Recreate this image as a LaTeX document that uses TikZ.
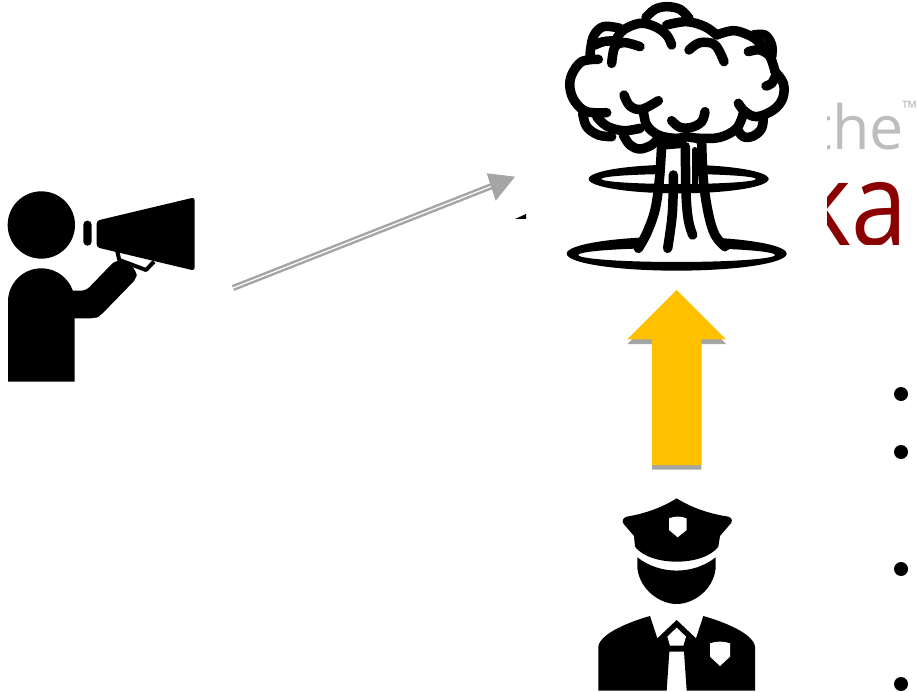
\documentclass[tikz,border=0pt]{standalone}
\usepackage{fontspec}
\setmainfont{Open Sans}
\definecolor{arrowgray}{HTML}{A5A5A5}
\definecolor{gold}{HTML}{FFC000}
\definecolor{logogray}{HTML}{BDBDBD}
\definecolor{logored}{HTML}{8B0000}
\tikzset{
  ink/.style={line width=9.5pt,line cap=round,line join=round,draw=black},
  zoomA/.style={x=0.33333pt,y=-0.33333pt,shift={(540pt,0pt)}},
  zoomB/.style={x=0.33333pt,y=-0.33333pt,shift={(0pt,-170pt)}},
  zoomC/.style={x=0.33333pt,y=-0.33333pt,shift={(580pt,-480pt)}},
  logotext/.style={inner sep=0pt,outer sep=0pt,anchor=base east},
}
\newcommand{\stroke}[1]{\draw[ink] plot[smooth,tension=0.6] coordinates {#1};}
\begin{document}
\begin{tikzpicture}[x=1pt,y=-1pt]
\useasboundingbox (0,0) rectangle (917,692);
% --- clipped logo text
\begin{scope}
\clip (827,0) rectangle (917,245);
\node[logotext,text=logogray,font=\fontsize{61}{70}\selectfont] (the) at (904,150) {the};
\node[logotext,text=logogray,font=\fontsize{20}{24}\selectfont,anchor=base west] (tm) at (902,116) {™};
\node[logotext,text=logored,font=\fontsize{116}{120}\selectfont] (ka) at (908,246) {\scalebox{0.87}[1]{ka}};
\end{scope}
% --- sliver
\fill (515,219) -- (526,214) -- (526,219) -- cycle;
% --- person with megaphone
\begin{scope}[zoomB]
\fill (124,165) circle[x radius=101,y radius=101];
\fill (24,635) -- (24,395) arc[start angle=180,end angle=360,x radius=100,y radius=100] -- (224,635) -- cycle;
\fill[rounded corners=5pt] (150,362) -- (258,362) -- (345,272) -- (380,272) -- (410,305) -- (410,325) -- (300,438) -- (285,445) -- (150,445) -- cycle;
\fill[rounded corners=3pt] (290,152) -- (584,82) -- (584,302) -- (290,232) -- cycle;
\fill[rounded corners=4pt] (250,152) rectangle (275,227);
\draw[line width=4pt,line join=round] (352,245) -- (358,270) -- (438,300) -- (462,275);
\end{scope}
% --- explosion
\begin{scope}[zoomA]
\fill[even odd rule] (416,537) ellipse[x radius=270,y radius=43] (416,537) ellipse[x radius=232,y radius=15];
\fill[even odd rule] (410,761) ellipse[x radius=330,y radius=51] (410,765) ellipse[x radius=295,y radius=21];
\fill[white] (372,480) rectangle (478,551);
\fill[white] (305,700) rectangle (545,746);
% stem
\stroke{(365,435) (358,540) (345,630) (320,700) (295,745)}
\stroke{(485,425) (490,540) (505,640) (525,705) (555,740)}
\stroke{(400,525) (397,640) (383,745)}
\stroke{(436,440) (438,580) (445,660) (458,705)}
\draw[ink,line width=6pt] (464,450) -- (464,552);
\draw[ink] (365,435) -- (425,430);
% cloud
\stroke{(318,52) (345,28) (380,20) (420,28) (447,55)}
\stroke{(228,120) (250,90) (300,70) (345,80) (380,105) (395,135)}
\stroke{(380,75) (440,65) (495,80) (530,105)}
\stroke{(530,105) (580,92) (625,105) (655,125) (690,170) (705,215)}
\stroke{(215,190) (225,140) (255,128) (300,140)}
\stroke{(447,150) (480,128) (525,135) (552,185)}
\stroke{(150,165) (160,110) (190,80) (240,85)}
\stroke{(165,135) (190,125) (225,122)}
\stroke{(640,105) (675,105) (695,135) (695,170)}
\stroke{(625,155) (660,150) (695,170)}
\stroke{(705,215) (730,250) (728,295) (700,330) (650,350) (615,335) (595,310)}
\stroke{(708,225) (695,250) (678,258)}
\stroke{(175,178) (125,185) (95,225) (90,265) (105,305) (140,335) (200,338)}
\stroke{(128,340) (140,380) (175,405) (215,410)}
\stroke{(170,350) (200,378) (250,392) (300,385)}
\stroke{(252,285) (270,318) (305,328) (355,302)}
\stroke{(310,330) (320,375) (355,405) (405,415) (440,410)}
\stroke{(395,362) (420,382) (455,382) (485,365) (495,335)}
\stroke{(440,410) (480,415) (540,412) (590,385) (610,340)}
\stroke{(250,405) (270,435) (300,447) (335,435) (350,420)}
\stroke{(590,385) (610,410) (640,408) (665,385) (670,350)}
\draw[ink,line width=6pt] (440,405) -- (420,430);
\draw[ink,line width=6pt] (440,405) -- (480,425);
\end{scope}
% --- megaphone arrow
\coordinate (from) at (233,288);
\coordinate (to) at (497,184);
\draw[arrowgray,line width=2.5pt,double=white,double distance=1.2pt] (from) -- (to);
\fill[arrowgray] (515,176.7) -- (486.7,173.3) -- (495.7,200.7) -- cycle;
% --- yellow arrow
\fill[arrowgray] (676.7,294.5) -- (726,344) -- (701.3,344) -- (701.3,469.7) -- (652,469.7) -- (652,344) -- (627.3,344) -- cycle;
\fill[gold] (676.7,290) -- (726,339.3) -- (701.3,339.3) -- (701.3,465) -- (652,465) -- (652,339.3) -- (627.3,339.3) -- cycle;
% --- policeman
\begin{scope}[zoomC]
\fill (290,55) .. controls (250,80) and (200,100) .. (140,110) .. controls (128,113) and (124,125) .. (132,133) -- (162,168) -- (165,200) .. controls (210,260) and (370,260) .. (415,200) -- (420,168) -- (450,133) .. controls (460,125) and (456,113) .. (445,110) .. controls (380,100) and (330,80) .. (290,55) -- cycle;
\fill[white] (267,115) .. controls (285,108) and (300,108) .. (320,115) -- (320,150) -- (293,172) -- (267,150) -- cycle;
\fill (172,232) .. controls (240,285) and (340,285) .. (407,232) -- (407,265) .. controls (400,330) and (340,372) .. (290,372) .. controls (240,372) and (180,330) .. (172,265) -- cycle;
\fill (55,632) -- (55,500) .. controls (60,460) and (150,425) .. (210,408) -- (232,475) -- (290,420) -- (348,475) -- (370,408) .. controls (430,425) and (520,460) .. (525,500) -- (525,632) -- (320,632) -- (312,515) -- (268,515) -- (260,632) -- cycle;
\fill[white] (290,443) -- (318,470) -- (310,497) -- (270,497) -- (262,470) -- cycle;
\fill[white] (390,490) .. controls (410,483) and (430,483) .. (450,490) -- (450,530) -- (420,558) -- (390,530) -- cycle;
\end{scope}
% --- bullets
\fill (901,394) circle[radius=7];
\fill (901,452) circle[radius=7];
\fill (901,569) circle[radius=7];
\fill (901,684) circle[radius=7];
\end{tikzpicture}
\end{document}
